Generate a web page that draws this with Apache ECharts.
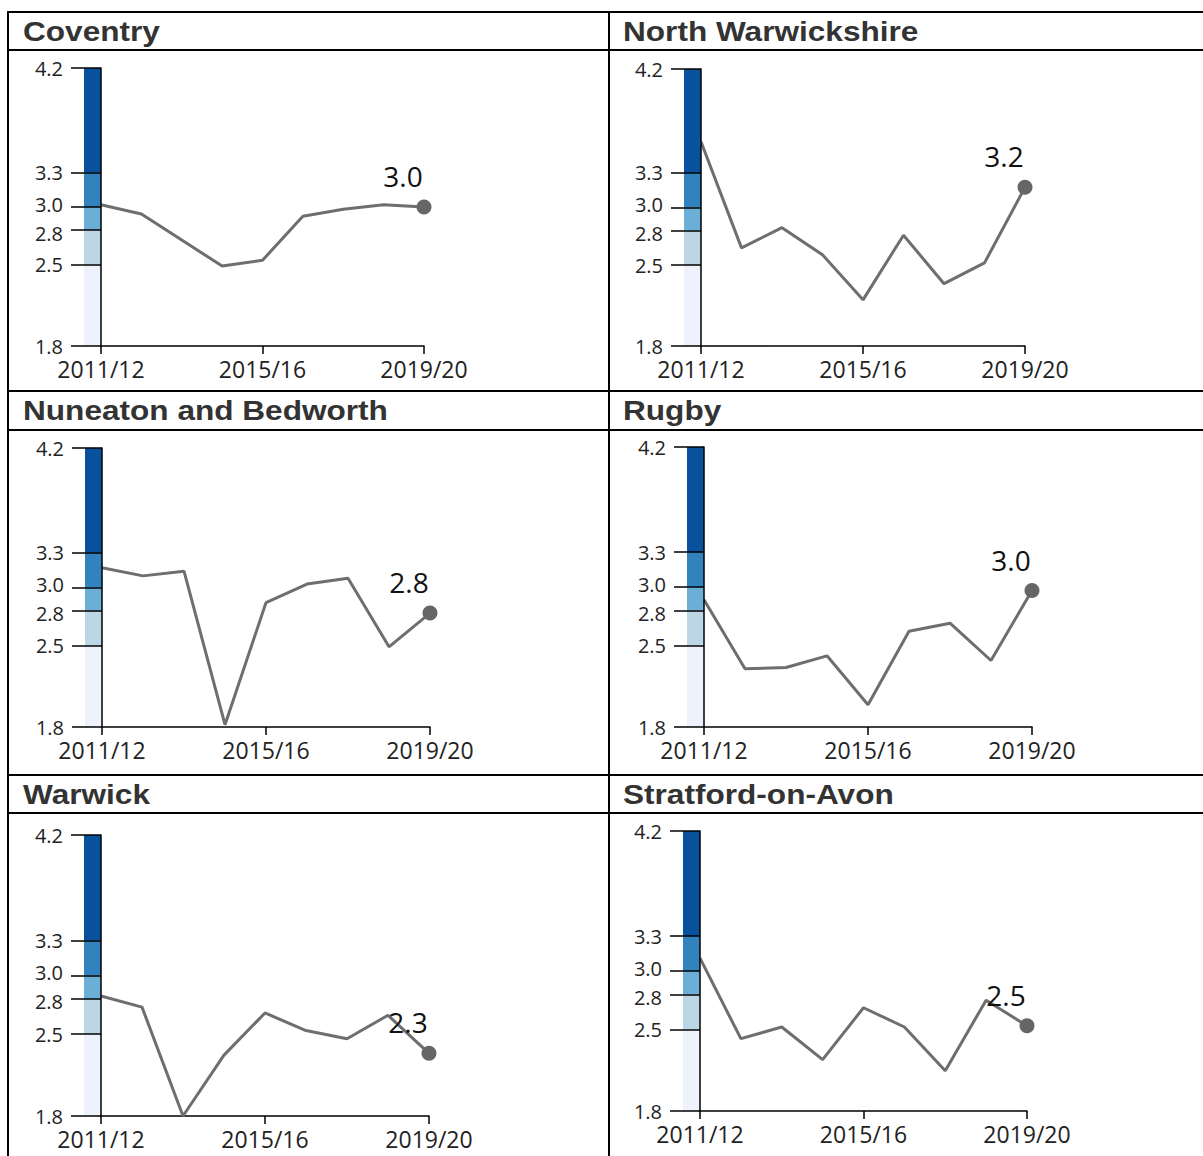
<!DOCTYPE html>
<html><head><meta charset="utf-8">
<script src="https://cdn.jsdelivr.net/npm/echarts@6/dist/echarts.min.js"></script>
<style>html,body{margin:0;padding:0;background:#fff}#c{width:1203px;height:1156px}</style>
</head><body><div id="c"></div>
<script>
// ---- data ----
const categories = ['2011/12','2012/13','2013/14','2014/15','2015/16','2016/17','2017/18','2018/19','2019/20'];
const yTicks = [1.8, 2.5, 2.8, 3.0, 3.3, 4.2];
const bandBreaks = [1.8, 2.5, 2.8, 3.0, 3.3, 4.2];
const bandColors = ['#eef2fc', '#bdd6e6', '#6baed6', '#3182bd', '#08519c'];
const areaNames = ['Coventry', 'North Warwickshire', 'Nuneaton and Bedworth', 'Rugby', 'Warwick', 'Stratford-on-Avon'];
const coventry = [3.02, 2.94, 2.715, 2.49, 2.54, 2.92, 2.98, 3.02, 3.00];
const northWarwickshire = [3.57, 2.65, 2.825, 2.59, 2.20, 2.76, 2.34, 2.52, 3.175];
const nuneatonBedworth = [3.17, 3.10, 3.14, 1.82, 2.87, 3.03, 3.08, 2.49, 2.78];
const rugby = [2.89, 2.30, 2.31, 2.41, 1.99, 2.62, 2.69, 2.37, 2.97];
const warwick = [2.825, 2.73, 1.80, 2.32, 2.68, 2.53, 2.46, 2.66, 2.335];
const stratford = [3.11, 2.42, 2.52, 2.24, 2.685, 2.52, 2.145, 2.75, 2.53];
const seriesValues = [coventry, northWarwickshire, nuneatonBedworth, rugby, warwick, stratford];

// ---- layout ----
const layout = [
  {tx: 23,  ty: 31,  left: 101, top: 68,  width: 323, height: 278},
  {tx: 623, ty: 31,  left: 701, top: 69,  width: 324, height: 277},
  {tx: 23,  ty: 410, left: 102, top: 448, width: 328, height: 279},
  {tx: 623, ty: 410, left: 704, top: 447, width: 328, height: 280},
  {tx: 23,  ty: 794, left: 101, top: 835, width: 328, height: 281},
  {tx: 623, ty: 794, left: 700, top: 831, width: 327, height: 280}
];

const AX = {color: '#000', width: 1.5};
const FONT = '"Open Sans", "Noto Sans", sans-serif';
const YL = {color: '#222', fontFamily: FONT, fontSize: 20, lineHeight: 20};
const grid = [], xAxis = [], yAxis = [], series = [], graphic = [];

layout.forEach((L, i) => {
  const g = i * 2, gb = i * 2 + 1;
  grid.push({left: L.left, top: L.top, width: L.width, height: L.height});
  grid.push({left: L.left - 17, top: L.top, width: 17, height: L.height});

  xAxis.push({
    type: 'category', gridIndex: g, data: categories, boundaryGap: false,
    axisLine: {lineStyle: AX},
    axisTick: {show: true, interval: 3, length: 8, lineStyle: AX},
    axisLabel: {interval: 3, margin: 11, color: '#222', fontFamily: FONT, fontSize: 23},
    splitLine: {show: false}
  });
  xAxis.push({type: 'category', gridIndex: gb, data: ['band'], show: false});

  yAxis.push({
    type: 'value', gridIndex: g, min: 1.8, max: 4.2, z: 10,
    axisLine: {show: true, lineStyle: AX},
    axisTick: {show: true, length: 30, customValues: yTicks, lineStyle: AX},
    axisLabel: Object.assign({customValues: yTicks, margin: 38,
      formatter: v => {
        const s = v.toFixed(1);
        if (Math.abs(v - 3.0) < 1e-9) return '{up|' + s + '}';
        if (Math.abs(v - 2.8) < 1e-9) return '{dn|' + s + '}';
        return s;
      },
      rich: {up: Object.assign({padding: [0, 0, 6, 0]}, YL), dn: Object.assign({padding: [6, 0, 0, 0]}, YL)}
    }, YL),
    splitLine: {show: false}
  });
  yAxis.push({type: 'value', gridIndex: gb, min: 1.8, max: 4.2, show: false});

  // colour band: transparent base then stacked bands
  series.push({type: 'bar', xAxisIndex: gb, yAxisIndex: gb, stack: 'band' + i, barWidth: '100%',
    silent: true, animation: false, itemStyle: {color: 'rgba(0,0,0,0)'}, data: [bandBreaks[0]]});
  for (let k = 0; k < bandColors.length; k++) {
    series.push({type: 'bar', xAxisIndex: gb, yAxisIndex: gb, stack: 'band' + i, barWidth: '100%',
      silent: true, animation: false, itemStyle: {color: bandColors[k]},
      data: [+(bandBreaks[k + 1] - bandBreaks[k]).toFixed(3)]});
  }

  const vals = seriesValues[i];
  const last = vals.length - 1;
  series.push({
    type: 'line', xAxisIndex: g, yAxisIndex: g, z: 5, clip: false, animation: false,
    symbol: 'circle', symbolSize: 15, showSymbol: true, showAllSymbol: true,
    lineStyle: {color: '#6e6e6e', width: 3},
    itemStyle: {color: '#666'},
    data: vals.map((v, j) => j === last
      ? {value: v, label: {show: true, position: 'inside', offset: [-21, -31],
          formatter: p => p.value.toFixed(1), fontSize: 28, color: '#111', fontFamily: FONT}}
      : {value: v, symbol: 'none'})
  });

  graphic.push({type: 'text', x: L.tx, y: L.ty, scaleX: 1.17, z: 20,
    style: {text: areaNames[i], font: 'bold 27px "Liberation Sans"', fill: '#333', verticalAlign: 'middle', align: 'left'}});
});

// table rules
[12, 50, 391, 430, 775, 813].forEach(y => graphic.push({type: 'line', z: 20,
  shape: {x1: 7, y1: y, x2: 1203, y2: y}, style: {stroke: '#000', lineWidth: 2}}));
[8, 609].forEach(x => graphic.push({type: 'line', z: 20,
  shape: {x1: x, y1: 11, x2: x, y2: 1156}, style: {stroke: '#000', lineWidth: 2}}));

const chart = echarts.init(document.getElementById('c'), null, {renderer: 'svg'});
chart.setOption({animation: false, backgroundColor: '#fff', grid, xAxis, yAxis, series, graphic});
</script></body></html>
